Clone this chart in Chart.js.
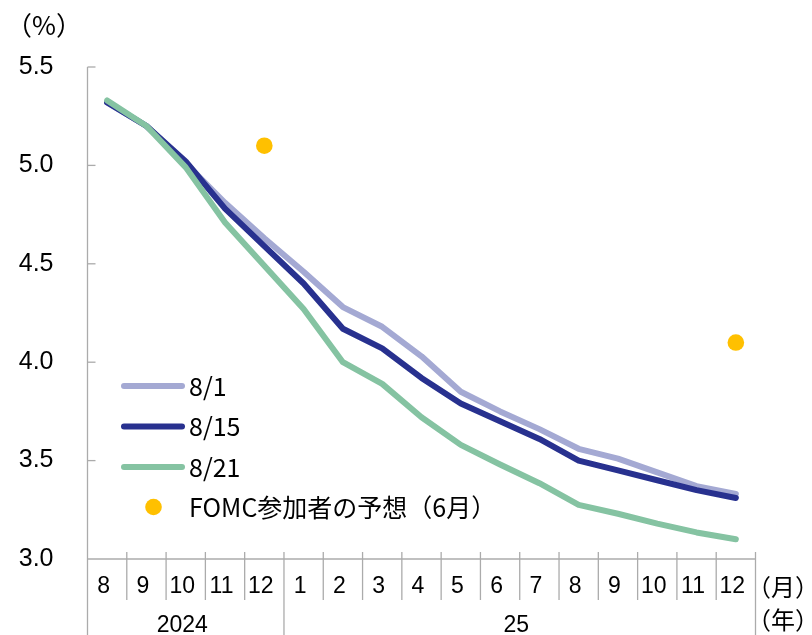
<!DOCTYPE html>
<html>
<head>
<meta charset="utf-8">
<script src="https://cdn.jsdelivr.net/npm/chart.js@4/dist/chart.umd.min.js"></script>
<style>
  html, body { margin: 0; padding: 0; background: #fff; }
  #wrap { width: 812px; height: 635px; }
</style>
</head>
<body>
<div id="wrap"><canvas id="c" width="812" height="635"></canvas></div>
<script>
// Month tick labels (Aug 2024 – Dec 2025) and the year groups below them
const months = ['8', '9', '10', '11', '12', '1', '2', '3', '4', '5', '6', '7', '8', '9', '10', '11', '12'];
const yearLabels = ['2024', '25'];
const yearFirstIndex = [0, 5];

// Implied policy-rate path (%) as of each date
const path0801 = [5.32, 5.20, 5.01, 4.81, 4.63, 4.46, 4.28, 4.18, 4.03, 3.85, 3.75, 3.66, 3.56, 3.51, 3.44, 3.37, 3.33];
const path0815 = [5.32, 5.20, 5.02, 4.78, 4.59, 4.40, 4.17, 4.07, 3.92, 3.79, 3.70, 3.61, 3.50, 3.45, 3.40, 3.35, 3.31];
const path0821 = [5.33, 5.20, 4.99, 4.71, 4.49, 4.27, 4.00, 3.89, 3.72, 3.58, 3.48, 3.385, 3.275, 3.23, 3.18, 3.135, 3.10];

// FOMC participants' median projection (June), year-end values
const fomcJune = [null, null, null, null, 5.1, null, null, null, null, null, null, null, null, null, null, null, 4.1];

const seriesNames = ['8/1', '8/15', '8/21', 'FOMC参加者の予想（6月）'];

const COLORS = {
  lav: '#a4a9d3',
  navy: '#28318f',
  green: '#85c3a2',
  dot: '#ffc000',
  axis: '#ababab'
};

const NUM_FONT = "'Liberation Sans', Arial, sans-serif";
const JP_FONT = "'Noto Sans CJK JP', 'Noto Sans', sans-serif";

const lineStyle = {
  borderWidth: 6,
  borderCapStyle: 'round',
  borderJoinStyle: 'round',
  pointRadius: 0,
  pointHoverRadius: 0,
  fill: false,
  tension: 0
};

// Axes, category separators, year row, unit labels and the in-plot legend
const framePlugin = {
  id: 'frame',
  afterDraw(chart) {
    const ctx = chart.ctx;
    const xs = chart.scales.x;
    const ys = chart.scales.y;
    const area = chart.chartArea;
    const n = months.length;
    const bottomY = area.bottom;

    ctx.save();
    ctx.strokeStyle = COLORS.axis;
    ctx.lineWidth = 1.3;

    // y axis line, running down through the label rows
    ctx.beginPath();
    ctx.moveTo(area.left, area.top);
    ctx.lineTo(area.left, 635);
    ctx.stroke();

    // inward y ticks
    ys.ticks.forEach(t => {
      if (t.value <= ys.min) return;
      const y = ys.getPixelForValue(t.value);
      ctx.beginPath();
      ctx.moveTo(area.left, y);
      ctx.lineTo(area.left + 8, y);
      ctx.stroke();
    });

    // x axis line
    ctx.beginPath();
    ctx.moveTo(area.left, bottomY);
    ctx.lineTo(area.right, bottomY);
    ctx.stroke();

    // category boundaries
    const boundary = i => {
      if (i === 0) return area.left;
      if (i === n) return area.right;
      return (xs.getPixelForValue(i - 1) + xs.getPixelForValue(i)) / 2;
    };
    for (let i = 1; i <= n; i++) {
      const x = boundary(i);
      const isYearEdge = yearFirstIndex.includes(i) || i === n;
      ctx.beginPath();
      ctx.moveTo(x, bottomY - 7);
      ctx.lineTo(x, isYearEdge ? 635 : 600);
      ctx.stroke();
    }

    // month labels
    ctx.fillStyle = '#000';
    ctx.textAlign = 'center';
    ctx.textBaseline = 'middle';
    ctx.font = '23px ' + NUM_FONT;
    months.forEach((m, i) => {
      ctx.fillText(m, xs.getPixelForValue(i) - 3.5, 587);
    });

    // year labels centred under their month groups
    yearLabels.forEach((yl, k) => {
      const a = yearFirstIndex[k];
      const b = k + 1 < yearFirstIndex.length ? yearFirstIndex[k + 1] : n;
      const cx = (boundary(a) + boundary(b)) / 2;
      ctx.fillText(yl, cx - 3.5, 626);
    });

    // unit labels
    ctx.textAlign = 'left';
    ctx.font = '24px ' + JP_FONT;
    ctx.fillText('（月）', 747, 587);
    ctx.fillText('（年）', 747, 620);
    ctx.font = '26px ' + JP_FONT;
    ctx.fillText('（%）', 6, 25);

    // legend
    const items = chart.data.datasets;
    const rowY = [386, 426.5, 467, 507];
    ctx.font = '25px ' + JP_FONT;
    items.forEach((ds, k) => {
      const y = rowY[k];
      if (ds.showLine === false) {
        ctx.fillStyle = ds.pointBackgroundColor;
        ctx.beginPath();
        ctx.arc(153.5, y, 8.3, 0, Math.PI * 2);
        ctx.fill();
      } else {
        ctx.strokeStyle = ds.borderColor;
        ctx.lineWidth = 6;
        ctx.lineCap = 'round';
        ctx.beginPath();
        ctx.moveTo(124, y);
        ctx.lineTo(182, y);
        ctx.stroke();
      }
      ctx.fillStyle = '#000';
      ctx.fillText(ds.label, 189, y);
    });
    ctx.restore();
  }
};

new Chart(document.getElementById('c'), {
  type: 'line',
  data: {
    labels: months,
    datasets: [
      Object.assign({ label: seriesNames[0], data: path0801, borderColor: COLORS.lav, order: 4 }, lineStyle),
      Object.assign({ label: seriesNames[1], data: path0815, borderColor: COLORS.navy, order: 3 }, lineStyle),
      Object.assign({ label: seriesNames[2], data: path0821, borderColor: COLORS.green, order: 2 }, lineStyle),
      {
        label: seriesNames[3],
        data: fomcJune,
        showLine: false,
        pointRadius: 8.3,
        pointHoverRadius: 8.3,
        pointBorderWidth: 0,
        pointBackgroundColor: COLORS.dot,
        borderColor: COLORS.dot,
        backgroundColor: COLORS.dot,
        order: 1
      }
    ]
  },
  options: {
    responsive: false,
    animation: false,
    devicePixelRatio: 1,
    layout: { padding: { left: 0, top: 67, right: 56.5, bottom: 76 } },
    plugins: {
      legend: { display: false },
      tooltip: { enabled: false }
    },
    scales: {
      x: {
        type: 'category',
        display: false,
        offset: true
      },
      y: {
        min: 3,
        max: 5.5,
        afterFit(scale) { scale.width = 87.5; },
        grid: { display: false, drawTicks: false },
        border: { display: false },
        ticks: {
          stepSize: 0.5,
          padding: 34,
          color: '#000',
          font: { family: NUM_FONT, size: 25 },
          callback: v => Number(v).toFixed(1)
        }
      }
    }
  },
  plugins: [framePlugin]
});
</script>
</body>
</html>
